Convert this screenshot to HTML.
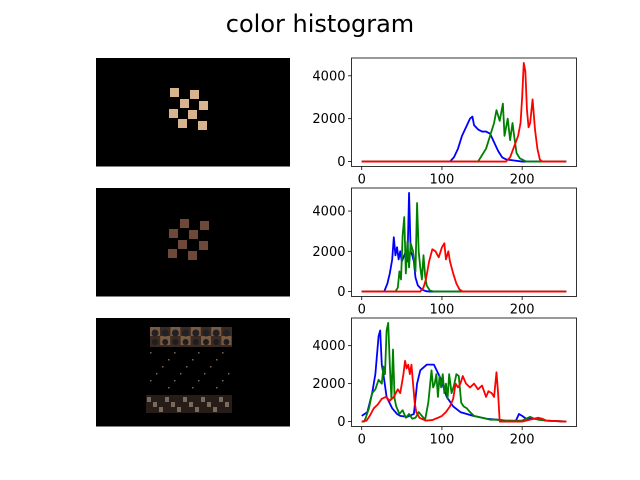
<!DOCTYPE html>
<html><head><meta charset="utf-8"><style>
body{margin:0;background:#fff;}
svg{display:block;font-family:"DejaVu Sans","Liberation Sans",sans-serif;}
</style></head><body>
<svg id="fig" width="640" height="480" viewBox="0 0 640 480">
<text x="320" y="32" font-size="24" text-anchor="middle" fill="#000">color histogram</text>
<g id="images"></g>
<g id="plots"></g>
</svg>
<script>
const xTicks=[0,100,200];
const yTicks=[0,2000,4000];
const channelColors=['blue','green','red'];
const channelNames=['blue','green','red'];
// panel 1
const binsB1=[0,110,115,120,125,130,135,138,140,145,150,155,160,165,170,175,180,190,200,255];
const cntB1=[0,0,200,600,1200,1600,2000,2100,1700,1500,1400,1400,1300,900,500,200,100,50,0,0];
const binsG1=[0,145,150,155,160,165,168,172,176,178,182,185,188,190,193,197,205,255];
const cntG1=[0,0,300,600,1200,1800,2400,1900,2700,1200,2000,1000,1800,1200,400,150,0,0];
const binsR1=[0,180,185,190,195,198,200,202,204,206,208,210,213,216,219,222,225,255];
const cntR1=[0,0,200,700,1200,1800,3000,4600,4200,2400,1600,1800,2900,1500,600,100,0,0];
// panel 2
const binsB2=[0,28,32,35,38,40,42,44,46,48,50,52,55,57,59,61,63,65,67,70,75,80,85,255];
const cntB2=[0,0,400,900,1600,2700,1800,2200,1600,2000,1500,1700,2000,1500,4900,2000,1800,1500,700,300,100,20,0,0];
const binsG2=[0,42,45,47,49,51,53,55,57,59,61,64,67,69,71,73,75,77,79,81,85,90,255];
const cntG2=[0,0,200,1000,600,2800,3700,900,2500,1200,2400,2000,1000,4400,2000,1200,600,1800,800,300,50,0,0];
const binsR2=[0,73,77,80,84,88,92,96,100,103,105,108,110,114,118,122,126,255];
const cntR2=[0,0,200,600,1500,2100,2000,1700,2200,2400,1600,2000,1500,900,400,100,0,0];
// panel 3
const binsB3=[0,7,13,17,21,23,25,27,31,38,44,48,57,65,69,73,81,90,98,106,114,123,139,156,168,180,192,196,200,205,221,229,245,255];
const cntB3=[300,500,1500,2500,4500,4800,3000,2500,1300,700,400,300,250,400,2000,2700,3000,3000,2300,1300,800,500,300,150,100,50,30,400,300,150,150,50,20,0];
const binsG3=[0,3,5,9,13,17,21,25,27,29,31,33,35,37,39,41,43,47,51,55,59,63,67,71,75,79,83,87,89,91,93,95,97,99,101,103,105,107,109,112,115,118,121,124,127,131,135,140,150,160,170,180,200,205,210,215,220,230,255];
const cntG3=[0,0,200,700,1500,1700,2200,2000,2900,2500,4800,5200,3000,1200,3800,1200,800,400,600,200,400,150,200,500,300,100,1000,2700,1800,2000,2500,1300,2400,1800,2500,1500,2000,1200,2500,1500,1900,2500,2400,1000,800,700,500,300,200,100,100,50,50,150,250,150,100,50,0];
const binsR3=[0,6,10,15,20,25,30,35,40,45,48,52,54,56,58,60,62,64,66,68,72,80,88,95,100,105,110,114,117,120,123,126,130,135,140,145,150,155,158,162,165,168,170,172,200,210,220,225,230,255];
const cntR3=[0,50,300,700,900,1200,1300,1100,1300,1700,1500,2500,3200,2800,3000,2500,3000,2000,1000,500,200,50,80,200,300,500,800,1200,2000,1800,2000,2400,2000,1800,2000,1700,1900,1300,1600,1500,1300,2600,1500,0,0,100,200,150,50,0];

const panels=[
 {top:58,bins:[binsB1,binsG1,binsR1],cnts:[cntB1,cntG1,cntR1]},
 {top:188,bins:[binsB2,binsG2,binsR2],cnts:[cntB2,cntG2,cntR2]},
 {top:318,bins:[binsB3,binsG3,binsR3],cnts:[cntB3,cntG3,cntR3]}
];
const NS='http://www.w3.org/2000/svg';
function mk(tag,attrs,parent){const e=document.createElementNS(NS,tag);for(const k in attrs)e.setAttribute(k,attrs[k]);parent.appendChild(e);return e;}
const plots=document.getElementById('plots');
const AX0=351.5,AX1=576.5,H=108.5,XMIN=-12.75,XMAX=267.75;
function sx(v){return AX0+(v-XMIN)/(XMAX-XMIN)*(AX1-AX0);}
panels.forEach((p,pi)=>{
  const g=mk('g',{},plots);
  
  
  let mx=0;p.cnts.forEach(c=>c.forEach(v=>{if(v>mx)mx=v;}));
  const ymin=-0.05*mx,ymax=1.05*mx;
  const sy=v=>p.top+H-(v-ymin)/(ymax-ymin)*H;
  p.cnts.forEach((c,si)=>{
    const pts=c.map((v,i)=>sx(p.bins[si][i]).toFixed(2)+','+sy(v).toFixed(2)).join(' ');
    const l=mk('polyline',{points:pts,fill:'none',stroke:channelColors[si],'stroke-width':1.8,'stroke-linejoin':'round'},g);
    
    
  });
  const fr=mk('rect',{x:AX0,y:p.top,width:AX1-AX0,height:H,fill:'none',stroke:'#000','stroke-width':0.8},g);
  
  
  xTicks.forEach(t=>{
    const x=sx(t);
    mk('line',{x1:x,x2:x,y1:p.top+H,y2:p.top+H+3.5,stroke:'#000','stroke-width':0.8},g);
    const tx=mk('text',{x:x,y:p.top+H+17,'font-size':13,'text-anchor':'middle',fill:'#000'},g);
    tx.textContent=t;
    
    
  });
  yTicks.forEach(t=>{
    const y=sy(t);
    mk('line',{x1:AX0-3.5,x2:AX0,y1:y,y2:y,stroke:'#000','stroke-width':0.8},g);
    const tx=mk('text',{x:AX0-6,y:y+4.5,'font-size':13,'text-anchor':'end',fill:'#000'},g);
    tx.textContent=t;
    
    
  });
});
// image panels
const imgs=document.getElementById('images');
const imgTops=[58,188,318];
imgTops.forEach((t,i)=>{
  const r=mk('rect',{x:96,y:t,width:194,height:108.5,fill:'#000'},imgs);
  
  
});
const sq1=[[170,88],[190,90],[180,99],[199,101],[169,109],[188,110],[178,119],[198,121]];
sq1.forEach(s=>mk('rect',{x:s[0],y:s[1],width:9,height:9,fill:'#d7b48f'},imgs));
const sq2=[[180,219],[200,221],[169,229],[189,230],[178,240],[199,241],[168,249],[188,251]];
sq2.forEach(s=>mk('rect',{x:s[0],y:s[1],width:9,height:9,fill:'#6e4838'},imgs));
// board
mk('rect',{x:150,y:327,width:82,height:20,fill:'#3a2a22'},imgs);
for(let c=0;c<8;c++){mk('rect',{x:150+c*10.2,y:327+(c%2)*9,width:10,height:9,fill:'#7a5a40'},imgs);}
for(let c=0;c<8;c++){mk('circle',{cx:155+c*10.2,cy:333,r:3.5,fill:'#222226'},imgs);mk('circle',{cx:155+c*10.2,cy:342,r:3,fill:'#1e1e22'},imgs);}
mk('rect',{x:146,y:395,width:86,height:18,fill:'#261c18'},imgs);
for(let c=0;c<14;c++){mk('rect',{x:147+c*6,y:397+(c%3)*5,width:4,height:5,fill:'#7a6a5c'},imgs);}
for(let r=0;r<6;r++)for(let c=0;c<14;c++){if((r*7+c*3)%4==0)mk('rect',{x:150+c*6,y:352+r*7,width:1.5,height:1.5,fill:'#7a6858'},imgs);}
</script>
</body></html>
